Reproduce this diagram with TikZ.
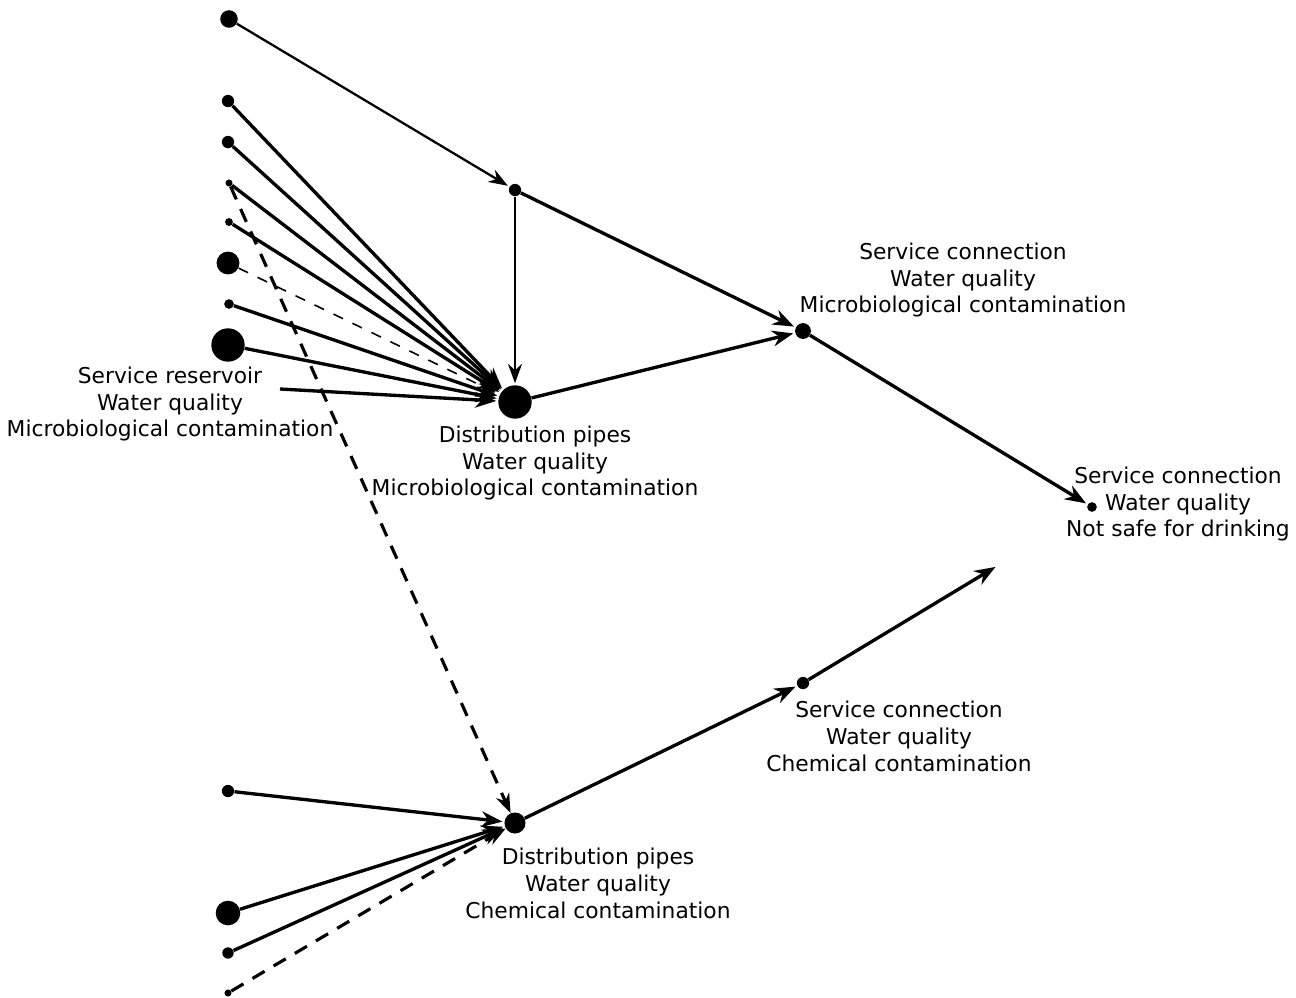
\documentclass[tikz,border=0pt]{standalone}
\usepackage{fontspec}
\setmainfont{DejaVu Sans}
\usetikzlibrary{arrows.meta}
\begin{document}
\begin{tikzpicture}[x=0.02cm,y=-0.02cm,
    dot/.style={circle,fill=black,inner sep=0pt,minimum size=#1},
    flow/.style={line width=1.9pt,-{Stealth[length=12pt,width=9pt]},shorten >=1pt},
    thinflow/.style={line width=1.3pt,-{Stealth[length=11pt,width=8pt]},shorten >=1pt},
    leak/.style={line width=1.8pt,dash pattern=on 8pt off 6pt,-{Stealth[length=11pt,width=8pt]}},
    leakthin/.style={line width=0.9pt,dash pattern=on 6pt off 6pt},
    info/.style={align=center,font=\fontsize{12.4}{15.3}\selectfont,inner sep=0pt}]
    \useasboundingbox (0,0) rectangle (1296,998);
    % sources feeding the upper distribution pipes
    \node[dot=10pt] (a1) at (229,19) {};
    \node[dot=7pt] (a2) at (228,101) {};
    \node[dot=7pt] (a3) at (228,142) {};
    \node[dot=4pt] (a4) at (229,183) {};
    \node[dot=4.5pt] (a5) at (229,222) {};
    \node[dot=13pt] (a6) at (228,263) {};
    \node[dot=5.5pt] (a7) at (229,304) {};
    \node[dot=19pt] (a8) at (228,345) {};
    \coordinate (rs) at (280,389);
    \node[info] (resv) at (170,404) {Service reservoir\\Water quality\\Microbiological contamination};
    % network
    \node[dot=7pt] (jn) at (515,190) {};
    \node[dot=19pt] (D1) at (515,402) {};
    \node[dot=9pt] (S1) at (803,331) {};
    \node[dot=5.5pt] (S2) at (1092,507) {};
    \node[dot=12pt] (D2) at (515,823) {};
    \node[dot=7pt] (S3) at (803,683) {};
    \coordinate (out) at (997,566);
    % sources feeding the lower distribution pipes
    \node[dot=7pt] (b1) at (228,791) {};
    \node[dot=14pt] (b2) at (228,913) {};
    \node[dot=6.5pt] (b3) at (228,953) {};
    \node[dot=4pt] (b4) at (228,993) {};
    % labels
    \node[info] at (963,280) {Service connection\\Water quality\\Microbiological contamination};
    \node[info] at (535,463) {Distribution pipes\\Water quality\\Microbiological contamination};
    \node[info] at (1178,504) {Service connection\\Water quality\\Not safe for drinking};
    \node[info] at (899,736) {Service connection\\Water quality\\Chemical contamination};
    \node[info] at (598,883) {Distribution pipes\\Water quality\\Chemical contamination};
    % connectors
    \draw[thinflow] (a1) -- (jn);
    \draw[thinflow] (jn) -- (D1);
    \draw[flow] (jn) -- (S1);
    \draw[flow] (D1) -- (S1);
    \draw[flow] (S1) -- (S2);
    \foreach \n in {a2,a3,a4,a5,a7,a8}
        \draw[flow] (\n) -- (D1);
    \draw[flow] (rs) -- (D1);
    \draw[leakthin] (a6) -- (D1);
    \draw[leak] (a4) -- (D2);
    \foreach \n in {b1,b2,b3}
        \draw[flow] (\n) -- (D2);
    \draw[leak] (b4) -- (D2);
    \draw[flow] (D2) -- (S3);
    \draw[flow] (S3) -- (out);
\end{tikzpicture}
\end{document}
